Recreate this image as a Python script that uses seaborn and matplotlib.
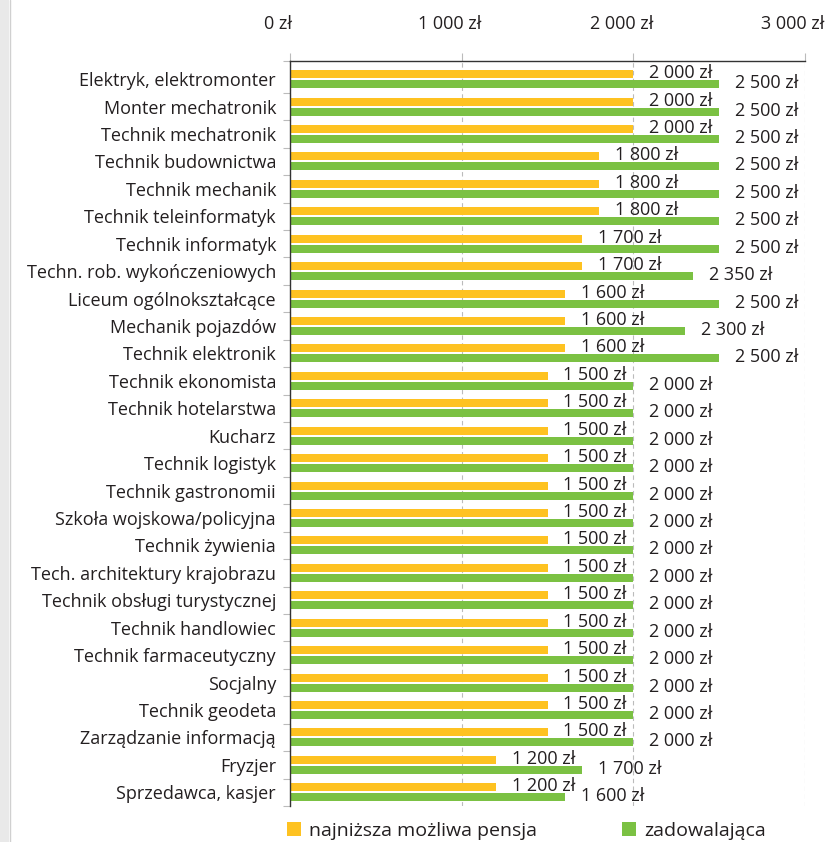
import matplotlib.pyplot as plt
import matplotlib.transforms as mtransforms
from matplotlib.patches import Patch, Rectangle
from matplotlib.lines import Line2D
import pandas as pd
import seaborn as sns

# Data
jobs = [
    "Elektryk, elektromonter", "Monter mechatronik", "Technik mechatronik",
    "Technik budownictwa", "Technik mechanik", "Technik teleinformatyk",
    "Technik informatyk", "Techn. rob. wykończeniowych", "Liceum ogólnokształcące",
    "Mechanik pojazdów", "Technik elektronik", "Technik ekonomista",
    "Technik hotelarstwa", "Kucharz", "Technik logistyk", "Technik gastronomii",
    "Szkoła wojskowa/policyjna", "Technik żywienia", "Tech. architektury krajobrazu",
    "Technik obsługi turystycznej", "Technik handlowiec", "Technik farmaceutyczny",
    "Socjalny", "Technik geodeta", "Zarządzanie informacją", "Fryzjer",
    "Sprzedawca, kasjer",
]
lowest = [2000, 2000, 2000, 1800, 1800, 1800, 1700, 1700, 1600, 1600, 1600,
          1500, 1500, 1500, 1500, 1500, 1500, 1500, 1500, 1500, 1500, 1500,
          1500, 1500, 1500, 1200, 1200]
satisfying = [2500, 2500, 2500, 2500, 2500, 2500, 2500, 2350, 2500, 2300, 2500,
              2000, 2000, 2000, 2000, 2000, 2000, 2000, 2000, 2000, 2000, 2000,
              2000, 2000, 2000, 1700, 1600]
series_names = ["najniższa możliwa pensja", "zadowalająca"]
colors = ["#FEC221", "#7BC143"]
xticks = [0, 1000, 2000, 3000]


def fmt(v):
    return f"{v:,}".replace(",", " ") + " zł"


df = pd.DataFrame({
    "job": jobs * 2,
    "kind": [series_names[0]] * len(jobs) + [series_names[1]] * len(jobs),
    "value": lowest + satisfying,
})

sns.set_theme(style="white")
plt.rcParams["font.family"] = ["Open Sans", "DejaVu Sans"]
text_color = "#231F20"

fig = plt.figure(figsize=(8.27, 8.42), dpi=100)
ax = fig.add_axes([290 / 827, 1 - 806 / 842, (805 - 290) / 827, (806 - 61) / 842])

sns.barplot(data=df, y="job", x="value", hue="kind", order=jobs,
            hue_order=series_names, palette=colors, saturation=1, orient="h",
            width=0.73, gap=0.2, linewidth=0, errorbar=None,
            legend=False, ax=ax)

ax.set_xlim(0, 3000)
ax.set_ylim(len(jobs) - 0.5, -0.66)
ax.set_xlabel("")
ax.set_ylabel("")

# x axis on top
ax.xaxis.tick_top()
ax.set_xticks(xticks, [fmt(v) for v in xticks])
ax.tick_params(axis="x", top=True, bottom=False, length=6, width=0.8,
               color="#bbbbbb", pad=14, labelsize=13, labelcolor=text_color)
shift = mtransforms.ScaledTranslation(-12 / 100, 0, fig.dpi_scale_trans)
for lbl in ax.get_xticklabels():
    lbl.set_transform(lbl.get_transform() + shift)

ax.grid(axis="x", color="#bbbbbb", linestyle=(0, (4, 3)), linewidth=0.8)
ax.grid(axis="y", visible=False)
ax.set_axisbelow(True)

# y axis: labels at rows, small ticks between rows
ax.tick_params(axis="y", which="major", left=False, length=0, pad=10,
               labelsize=13, labelcolor=text_color)
ax.set_yticks([-0.66] + [i + 0.5 for i in range(len(jobs))], minor=True)
ax.tick_params(axis="y", which="minor", left=True, length=5, width=0.8,
               color="#bbbbbb")

for side in ["right", "bottom"]:
    ax.spines[side].set_visible(False)
for side in ["left", "top"]:
    ax.spines[side].set_color("#333333")
    ax.spines[side].set_linewidth(1)

# value labels
for container, vals in zip(ax.containers, [lowest, satisfying]):
    for rect, v in zip(container, vals):
        ax.annotate(fmt(v), xy=(rect.get_width(), rect.get_y() + rect.get_height()),
                    xytext=(11.5, 0), textcoords="offset points",
                    ha="left", va="baseline", fontsize=13, color=text_color)

handles = [Patch(facecolor=c, edgecolor="none") for c in colors]
fig.legend(handles, series_names, loc="center left",
           bbox_to_anchor=(287 / 827, 1 - 831 / 842), ncol=2, frameon=False,
           fontsize=14, handlelength=0.72, handleheight=0.72,
           handletextpad=0.4, columnspacing=4.4, borderpad=0,
           borderaxespad=0, labelcolor=text_color)

# grey strip at the left page edge
fig.add_artist(Rectangle((0, 0), 9 / 827, 1, transform=fig.transFigure,
                         facecolor="#e9e9e9", edgecolor="none"))
fig.add_artist(Line2D([9.5 / 827] * 2, [0, 1], transform=fig.transFigure,
                      color="#d0d0d0", linewidth=1))

fig.savefig("out.png", dpi=100)
